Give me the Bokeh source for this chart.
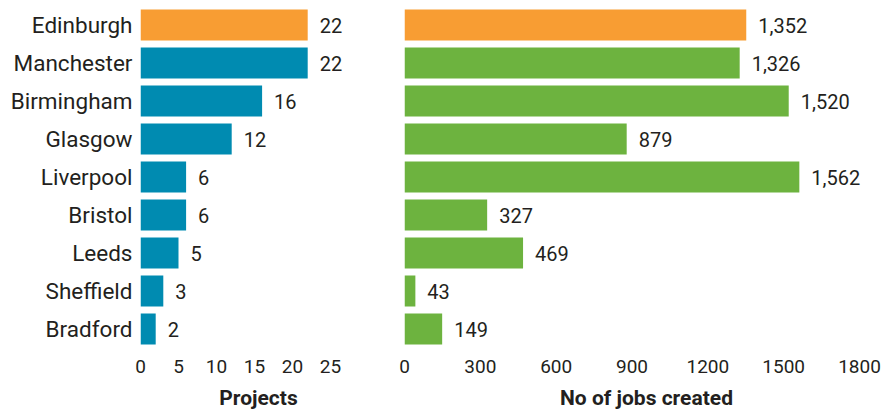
from bokeh.plotting import figure
from bokeh.layouts import row
from bokeh.models import Range1d, FixedTicker
from bokeh.core.properties import value
from bokeh.embed import file_html
from bokeh.resources import INLINE

cities = ["Edinburgh", "Manchester", "Birmingham", "Glasgow", "Liverpool",
          "Bristol", "Leeds", "Sheffield", "Bradford"]
projects = [22, 22, 16, 12, 6, 6, 5, 3, 2]
jobs = [1352, 1326, 1520, 879, 1562, 327, 469, 43, 149]
highlight = ["Edinburgh"]
project_ticks = [0, 5, 10, 15, 20, 25]
job_ticks = [0, 300, 600, 900, 1200, 1500, 1800]

ORANGE = "#F89D33"
BLUE = "#008BB1"
GREEN = "#6DB33F"
TXT = "#231F20"
FONT = "Roboto"

idx = list(range(len(cities)))
H = 412
FRAME_H = 348
ROW_PX = 38.0
top_val = -24.5 / ROW_PX
bot_val = top_val + FRAME_H / ROW_PX


def style(p, ticks, title):
    p.xaxis.ticker = FixedTicker(ticks=ticks)
    p.xaxis.axis_line_color = None
    p.xaxis.major_tick_line_color = None
    p.xaxis.minor_tick_line_color = None
    p.xaxis.major_tick_out = 0
    p.xaxis.major_label_standoff = 11
    p.xaxis.major_label_text_font = FONT
    p.xaxis.major_label_text_font_size = "19px"
    p.xaxis.major_label_text_color = TXT
    p.xaxis.axis_label = title
    p.xaxis.axis_label_text_font = FONT
    p.xaxis.axis_label_text_font_style = "bold"
    p.xaxis.axis_label_text_font_size = "21px"
    p.xaxis.axis_label_text_color = TXT
    p.xaxis.axis_label_standoff = 10
    p.xgrid.visible = False
    p.ygrid.visible = False
    p.outline_line_color = None


# Left panel: projects
px_per_proj = 190 / 25.0
left_w = 376
left_border = 140
p1 = figure(width=left_w, height=H, output_backend="svg", toolbar_location=None,
            x_range=Range1d(0, (left_w - left_border) / px_per_proj),
            y_range=Range1d(bot_val, top_val),
            min_border_left=left_border, min_border_right=0,
            min_border_top=0, min_border_bottom=H - FRAME_H)
p1.hbar(y=idx, left=0, right=projects, height=0.82,
        fill_color=[ORANGE if c in highlight else BLUE for c in cities],
        line_color=None)
p1.text(x=projects, y=idx, text=[f"{v:,}" for v in projects], x_offset=12,
        text_baseline="middle", text_align="left", text_font=value(FONT),
        text_font_size="20px", text_color=TXT)
style(p1, project_ticks, "Projects")
p1.yaxis.ticker = FixedTicker(ticks=idx)
p1.yaxis.major_label_overrides = {i: c for i, c in enumerate(cities)}
p1.yaxis.axis_line_color = None
p1.yaxis.major_tick_line_color = None
p1.yaxis.minor_tick_line_color = None
p1.yaxis.major_tick_out = 0
p1.yaxis.major_label_standoff = 8
p1.yaxis.major_label_text_font = FONT
p1.yaxis.major_label_text_font_size = "22.5px"
p1.yaxis.major_label_text_color = TXT

# Right panel: jobs
px_per_job = 455 / 1800.0
right_w = 512
right_border = 28
p2 = figure(width=right_w, height=H, output_backend="svg", toolbar_location=None,
            x_range=Range1d(0, (right_w - right_border) / px_per_job),
            y_range=Range1d(bot_val, top_val),
            min_border_left=right_border, min_border_right=0,
            min_border_top=0, min_border_bottom=H - FRAME_H)
p2.hbar(y=idx, left=0, right=jobs, height=0.82,
        fill_color=[ORANGE if c in highlight else GREEN for c in cities],
        line_color=None)
p2.text(x=jobs, y=idx, text=[f"{v:,}" for v in jobs], x_offset=12,
        text_baseline="middle", text_align="left", text_font=value(FONT),
        text_font_size="20px", text_color=TXT)
style(p2, job_ticks, "No of jobs created")
p2.yaxis.visible = False

layout = row(p1, p2)
open("out.html", "w").write(file_html(layout, INLINE))
